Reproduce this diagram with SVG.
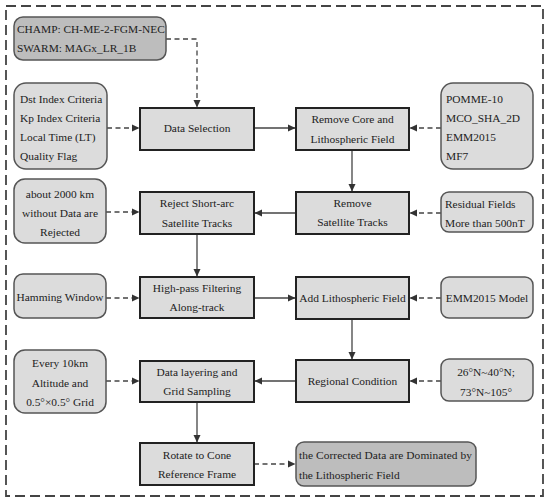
<svg xmlns="http://www.w3.org/2000/svg" width="550" height="504" viewBox="0 0 550 504">
<defs>
<marker id="ah" markerWidth="8" markerHeight="8" refX="7" refY="4" orient="auto" markerUnits="userSpaceOnUse">
<path d="M0,0.5 L7.5,4 L0,7.5 Z" fill="#333"/>
</marker>
</defs>
<style>
text{font-family:"Liberation Serif","Times New Roman",serif;font-size:11.4px;fill:#222}
.c{text-anchor:middle}
.proc{fill:#dcdcdc;stroke:#222;stroke-width:2}
.in{fill:#dcdcdc;stroke:#555;stroke-width:1.5}
.dk{fill:#bdbdbd;stroke:#555;stroke-width:1.5}
.s{fill:none;stroke:#444;stroke-width:1.3;marker-end:url(#ah)}
.d{fill:none;stroke:#444;stroke-width:1.3;stroke-dasharray:5 3.5;marker-end:url(#ah)}
.frame{fill:none;stroke:#444;stroke-width:1.8;stroke-dasharray:10 5}
</style>
<rect width="550" height="504" fill="#fff"/>
<rect class="frame" x="6" y="6" width="537" height="490"/>

<g id="connectors">
<path class="d" d="M166,39 H197 V107"/>
<path class="d" d="M107,128 H139"/>
<path class="s" d="M254,128 H295"/>
<path class="d" d="M441,128 H410"/>
<path class="s" d="M352,150 V191"/>
<path class="d" d="M441,213 H410"/>
<path class="s" d="M296,213 H255"/>
<path class="d" d="M106,212 H139"/>
<path class="s" d="M197,234 V276"/>
<path class="d" d="M106,298 H139"/>
<path class="s" d="M254,298 H295"/>
<path class="d" d="M441,298 H410"/>
<path class="s" d="M352,319 V359"/>
<path class="d" d="M441,381 H410"/>
<path class="s" d="M296,381 H255"/>
<path class="d" d="M106,381 H139"/>
<path class="s" d="M197,402 V442"/>
<path class="d" d="M254,464 H295"/>
</g>

<g id="champ">
<rect class="dk" x="14" y="17" width="152" height="43" rx="9"/>
<text x="17" y="33">CHAMP: CH-ME-2-FGM-NEC</text>
<text x="17" y="52">SWARM: MAGx_LR_1B</text>
</g>

<g id="criteria">
<rect class="in" x="14" y="83" width="93" height="86" rx="12"/>
<text x="20" y="103">Dst Index Criteria</text>
<text x="20" y="122">Kp Index Criteria</text>
<text x="20" y="141">Local Time (LT)</text>
<text x="20" y="160">Quality Flag</text>
</g>

<g id="data-selection">
<rect class="proc" x="140" y="108" width="114" height="42"/>
<text class="c" x="197" y="132">Data Selection</text>
</g>

<g id="remove-core">
<rect class="proc" x="296" y="108" width="113" height="42"/>
<text class="c" x="352.5" y="123">Remove Core and</text>
<text class="c" x="352.5" y="143">Lithospheric Field</text>
</g>

<g id="models">
<rect class="in" x="441" y="83" width="92" height="86" rx="12"/>
<text x="446" y="103">POMME-10</text>
<text x="446" y="122">MCO_SHA_2D</text>
<text x="446" y="141">EMM2015</text>
<text x="446" y="160">MF7</text>
</g>

<g id="remove-tracks">
<rect class="proc" x="296" y="192" width="113" height="42"/>
<text class="c" x="352.5" y="207">Remove</text>
<text class="c" x="352.5" y="226">Satellite Tracks</text>
</g>

<g id="residual">
<rect class="in" x="441" y="192" width="92" height="40" rx="8"/>
<text x="445" y="208">Residual Fields</text>
<text x="445" y="227">More than 500nT</text>
</g>

<g id="reject">
<rect class="proc" x="140" y="192" width="114" height="42"/>
<text class="c" x="197" y="207">Reject Short-arc</text>
<text class="c" x="197" y="227">Satellite Tracks</text>
</g>

<g id="about2000">
<rect class="in" x="14" y="179" width="92" height="64" rx="11"/>
<text class="c" x="60" y="198">about 2000 km</text>
<text class="c" x="60" y="217">without Data are</text>
<text class="c" x="60" y="236">Rejected</text>
</g>

<g id="hamming">
<rect class="in" x="14" y="274" width="92" height="44" rx="9"/>
<text class="c" x="60" y="301">Hamming Window</text>
</g>

<g id="highpass">
<rect class="proc" x="140" y="277" width="114" height="41"/>
<text class="c" x="197" y="292">High-pass Filtering</text>
<text class="c" x="197" y="311">Along-track</text>
</g>

<g id="add-litho">
<rect class="proc" x="296" y="277" width="113" height="42"/>
<text class="c" x="352.5" y="302">Add Lithospheric Field</text>
</g>

<g id="emm-model">
<rect class="in" x="441" y="277" width="92" height="41" rx="8"/>
<text class="c" x="487" y="302">EMM2015 Model</text>
</g>

<g id="regional">
<rect class="proc" x="296" y="360" width="113" height="42"/>
<text class="c" x="352.5" y="385">Regional Condition</text>
</g>

<g id="region-box">
<rect class="in" x="441" y="359" width="92" height="42" rx="8"/>
<text class="c" x="486" y="376">26°N~40°N;</text>
<text class="c" x="486" y="396">73°N~105°</text>
</g>

<g id="layering">
<rect class="proc" x="140" y="361" width="114" height="41"/>
<text class="c" x="197" y="376">Data layering and</text>
<text class="c" x="197" y="395">Grid Sampling</text>
</g>

<g id="every10km">
<rect class="in" x="14" y="350" width="92" height="63" rx="11"/>
<text class="c" x="60" y="367">Every 10km</text>
<text class="c" x="60" y="387">Altitude and</text>
<text class="c" x="60" y="406">0.5°×0.5° Grid</text>
</g>

<g id="rotate">
<rect class="proc" x="140" y="443" width="114" height="42"/>
<text class="c" x="197" y="459">Rotate to Cone</text>
<text class="c" x="197" y="478">Reference Frame</text>
</g>

<g id="corrected">
<rect class="dk" x="296" y="442" width="180" height="44" rx="8"/>
<text x="299" y="459" textLength="173" lengthAdjust="spacing">the Corrected Data are Dominated by</text>
<text x="299" y="479">the Lithospheric Field</text>
</g>
</svg>
